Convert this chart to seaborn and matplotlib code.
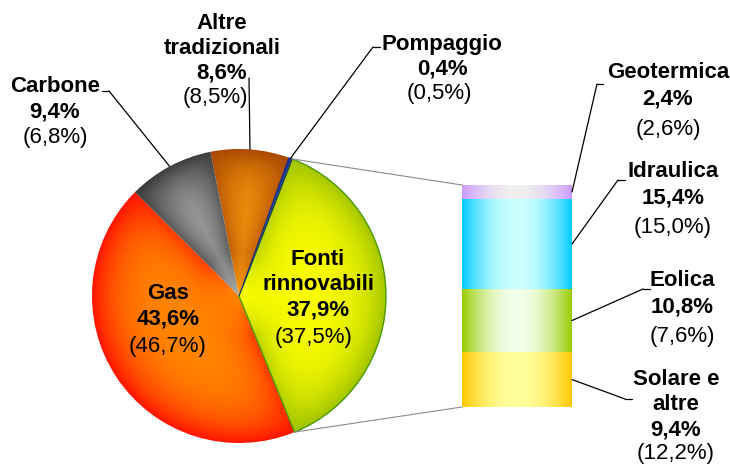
import numpy as np
import matplotlib
matplotlib.use('Agg')
import matplotlib.pyplot as plt
from matplotlib.patches import ConnectionPatch
from matplotlib.colors import to_rgb
import seaborn as sns

# pie slices, counterclockwise starting from the renewables slice
pie_labels = ['Fonti\nrinnovabili', 'Pompaggio', 'Altre\ntradizionali', 'Carbone', 'Gas']
pie_values = [37.9, 0.4, 8.6, 9.4, 43.6]
pie_prev = [37.5, 0.5, 8.5, 6.8, 46.7]

# renewables breakdown, bottom to top of the stacked bar
bar_labels = ['Solare e\naltre', 'Eolica', 'Idraulica', 'Geotermica']
bar_values = [9.4, 10.8, 15.4, 2.4]
bar_prev = [12.2, 7.6, 15.0, 2.6]

# (centre colour, edge colour) for the gradients
pie_grad = [('#FFFF00', '#A0C400'), ('#2A4FD8', '#1A2F9A'), ('#FFA010', '#A84600'),
            ('#B0B0B0', '#3A3A3A'), ('#FF8A00', '#FF1400')]
bar_grad = [('#FFFF9C', '#FFC800'), ('#F2FFEA', '#99CC00'), ('#CCFFFF', '#00CCFF'),
            ('#EFEFEF', '#CC99FF')]

sns.set_theme(style='white')
plt.rcParams['font.family'] = ['Liberation Sans', 'DejaVu Sans']

W, H = 730, 465
fig = plt.figure(figsize=(W / 100, H / 100), dpi=100)
fig.patch.set_facecolor('white')


def fmt(v):
    return f'{v:.1f}'.replace('.', ',') + '%'


# ---- pie ----
cx, cy, r = 239, 296, 147
pax = fig.add_axes([(cx - r) / W, (H - cy - r) / H, 2 * r / W, 2 * r / H])
wedges, _ = pax.pie(pie_values, startangle=-67.8, counterclock=True, radius=1,
                    wedgeprops=dict(linewidth=0))

xx, yy = np.meshgrid(np.linspace(-1, 1, 500), np.linspace(-1, 1, 500))
rho = np.clip(np.hypot(xx, yy), 0, 1)
phi = np.degrees(np.arctan2(yy, xx))
for w, (c0, c1) in zip(wedges, pie_grad):
    mid = (w.theta1 + w.theta2) / 2
    half = (w.theta2 - w.theta1) / 2
    dphi = np.abs((phi - mid + 180) % 360 - 180)
    ang = np.clip(half - dphi, 0, 90)
    s = rho * np.sin(np.deg2rad(ang))          # distance to the slice sides
    side = 0.7 * np.exp(-s / 0.12) * np.clip(rho / 0.3, 0, 1)
    t = 1 - (1 - rho ** 5) * (1 - side)
    img = (1 - t)[..., None] * np.array(to_rgb(c0)) + t[..., None] * np.array(to_rgb(c1))
    im = pax.imshow(img, extent=(-1, 1, -1, 1), origin='lower', zorder=2,
                    interpolation='bilinear')
    im.set_clip_path(w)
    w.set_facecolor('none')
    w.set_zorder(3)

wedges[0].set_edgecolor('#4E9A06')
wedges[0].set_linewidth(1.0)
wedges[1].set_edgecolor('#14246E')
wedges[1].set_linewidth(0.6)
pax.set_xlim(-1, 1)
pax.set_ylim(-1, 1)
pax.axis('off')

# ---- stacked bar ----
total = sum(bar_values)
bax = fig.add_axes([462 / W, (H - 407) / H, 110 / W, 222 / H])
bottoms = np.concatenate([[0], np.cumsum(bar_values)[:-1]])
bars = bax.bar(0, bar_values, bottom=bottoms, width=1, linewidth=0)
gx = np.linspace(0, 1, 300)
for b, (c0, c1) in zip(bars, bar_grad):
    t = (np.abs(gx - 0.5) * 2) ** 2
    row = (1 - t)[:, None] * np.array(to_rgb(c0)) + t[:, None] * np.array(to_rgb(c1))
    x0, y0 = b.get_x(), b.get_y()
    im = bax.imshow(row[None, :, :], extent=(x0, x0 + b.get_width(), y0, y0 + b.get_height()),
                    aspect='auto', zorder=2, interpolation='bilinear')
    im.set_clip_path(b)
bax.set_xlim(-0.5, 0.5)
bax.set_ylim(0, total)
bax.axis('off')

# connectors pie -> bar
w0 = wedges[0]
for ang, yb in [(w0.theta2, total), (w0.theta1, 0)]:
    a = np.deg2rad(ang)
    fig.add_artist(ConnectionPatch(xyA=(np.cos(a), np.sin(a)), coordsA=pax.transData,
                                   xyB=(-0.5, yb), coordsB=bax.transData,
                                   color='#8C8C8C', lw=0.8))

# ---- overlay in pixel coordinates for labels ----
ov = fig.add_axes([0, 0, 1, 1])
ov.set_xlim(0, W)
ov.set_ylim(H, 0)
ov.axis('off')

# label layout: centre x, first line centre y, line step, gap to bracket line, bracket dx
pie_pos = {
    'Gas': (168, 292, 25, 28, 0),
    'Fonti\nrinnovabili': (318, 258, 25, 28, -4),
    'Carbone': (55, 85, 25, 26, 0),
    'Altre\ntradizionali': (222, 22, 25, 24, -7),
    'Pompaggio': (442, 43, 25, 24, -3),
}
bar_pos = {
    'Geotermica': (668, 71, 26, 31, 0),
    'Idraulica': (673, 170, 26, 30, 0),
    'Eolica': (682, 279, 26, 30, 0),
    'Solare e\naltre': (676, 378, 25, 24, 0),
}
# leader lines: (stub start, knee) in pixels
pie_lead = {
    'Carbone': ((102, 91), (109, 91)),
    'Altre\ntradizionali': ((249, 78), (249, 78)),
    'Pompaggio': ((380, 47), (373, 47)),
}
bar_lead = {
    'Geotermica': ((603, 84), (597, 84)),
    'Idraulica': ((625, 180), (618, 180)),
    'Eolica': ((650, 289), (643, 289)),
    'Solare e\naltre': ((632, 399), (625, 399)),
}


def put_label(name, val, prev, pos):
    x, y0, step, gap, pdx = pos
    lines = name.split('\n') + [fmt(val)]
    for i, s in enumerate(lines):
        ov.text(x, y0 + i * step + 7, s, ha='center', va='baseline',
                fontsize=16, fontweight='bold', color='black')
    ov.text(x + pdx, y0 + (len(lines) - 1) * step + gap + 7, f'({fmt(prev)})',
            ha='center', va='baseline', fontsize=16, color='black')


for name, val, prev, w in zip(pie_labels, pie_values, pie_prev, wedges):
    put_label(name, val, prev, pie_pos[name])
    if name in pie_lead:
        (sx, sy), (kx, ky) = pie_lead[name]
        ov.plot([sx, kx], [sy, ky], color='black', lw=0.9)
        a = np.deg2rad((w.theta1 + w.theta2) / 2)
        fig.add_artist(ConnectionPatch(xyA=(kx, ky), coordsA=ov.transData,
                                       xyB=(np.cos(a), np.sin(a)), coordsB=pax.transData,
                                       color='black', lw=0.9))

for name, val, prev, b in zip(bar_labels, bar_values, bar_prev, bars):
    put_label(name, val, prev, bar_pos[name])
    (sx, sy), (kx, ky) = bar_lead[name]
    ov.plot([sx, kx], [sy, ky], color='black', lw=0.9)
    fig.add_artist(ConnectionPatch(xyA=(kx, ky), coordsA=ov.transData,
                                   xyB=(0.5, b.get_y() + b.get_height() / 2),
                                   coordsB=bax.transData, color='black', lw=0.9))

fig.savefig('out.png', dpi=100)
